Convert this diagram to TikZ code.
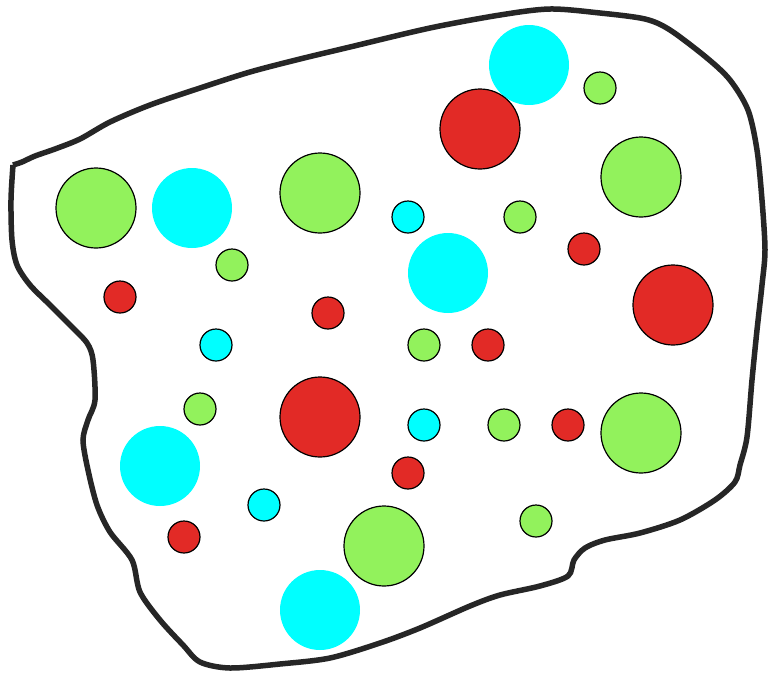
\documentclass[tikz,border=0pt]{standalone}
\begin{document}
\begin{tikzpicture}[x=1pt,y=-1pt,
  dot/.style={circle,inner sep=0pt,line width=1.2pt,draw=black},
  big/.style={minimum size=80pt},
  small/.style={minimum size=32pt},
  cy/.style={dot,fill=cyanc,draw=none},
  cys/.style={dot,fill=cyanc},
  gr/.style={dot,fill=greenc},
  rd/.style={dot,fill=redc},
  blob/.style={draw=blobc,line width=5.5pt,line join=miter}]
\definecolor{cyanc}{HTML}{00FFFF}
\definecolor{greenc}{HTML}{92F25C}
\definecolor{redc}{HTML}{E22A26}
\definecolor{blobc}{HTML}{262626}
\useasboundingbox (0,0) rectangle (769,673);
\fill[white] (0,0) rectangle (769,673);
% outline
\draw[blob] plot[smooth, tension=0.5] coordinates {
 (13,165) (22,162) (35,156) (55,149) (80,139) (110,122) (150,105) (200,88) (250,72) (300,59)
 (350,47) (430,28) (500,15) (550,9) (600,13) (645,19) (670,30) (707,58) (730,80)
 (748,110) (757,150) (762,200) (765,250) (762,285) (757,330) (752,380) (747,437)
 (740,465) (735,482) (715,500) (680,520) (640,533) (605,540) (585,548) (574,560)
 (568,576) (540,586) (500,595) (470,606) (420,628) (380,643) (330,658) (280,664)
 (230,668) (200,662) (183,645) (160,620) (140,592) (132,560) (110,532) (97,505)
 (88,470) (83,440) (88,420) (95,400) (93,360) (87,343) (70,325) (50,305) (30,285)
 (17,265) (12,240) (11,200) (13,165)};
% cyan
\node[cy,big] (c1) at (529,65) {};
\node[cy,big] (c2) at (192,208) {};
\node[cy,big] (c3) at (448,273) {};
\node[cy,big] (c4) at (160,466) {};
\node[cy,big] (c5) at (320,610) {};
\node[cys,small] (c6) at (408,217) {};
\node[cys,small] (c7) at (216,345) {};
\node[cys,small] (c8) at (424,425) {};
\node[cys,small] (c9) at (264,505) {};
% green
\node[gr,big] (g1) at (96,208) {};
\node[gr,big] (g2) at (320,193) {};
\node[gr,big] (g3) at (641,177) {};
\node[gr,big] (g4) at (641,433) {};
\node[gr,big] (g5) at (384,546) {};
\node[gr,small] (g6) at (600,88) {};
\node[gr,small] (g7) at (520,217) {};
\node[gr,small] (g8) at (232,265) {};
\node[gr,small] (g9) at (424,345) {};
\node[gr,small] (g10) at (200,409) {};
\node[gr,small] (g11) at (504,425) {};
\node[gr,small] (g12) at (536,521) {};
% red
\node[rd,big] (r1) at (480,129) {};
\node[rd,big] (r2) at (673,305) {};
\node[rd,big] (r3) at (320,417) {};
\node[rd,small] (r4) at (120,297) {};
\node[rd,small] (r5) at (328,313) {};
\node[rd,small] (r6) at (584,249) {};
\node[rd,small] (r7) at (488,345) {};
\node[rd,small] (r8) at (568,425) {};
\node[rd,small] (r9) at (408,473) {};
\node[rd,small] (r10) at (184,537) {};
\end{tikzpicture}
\end{document}
